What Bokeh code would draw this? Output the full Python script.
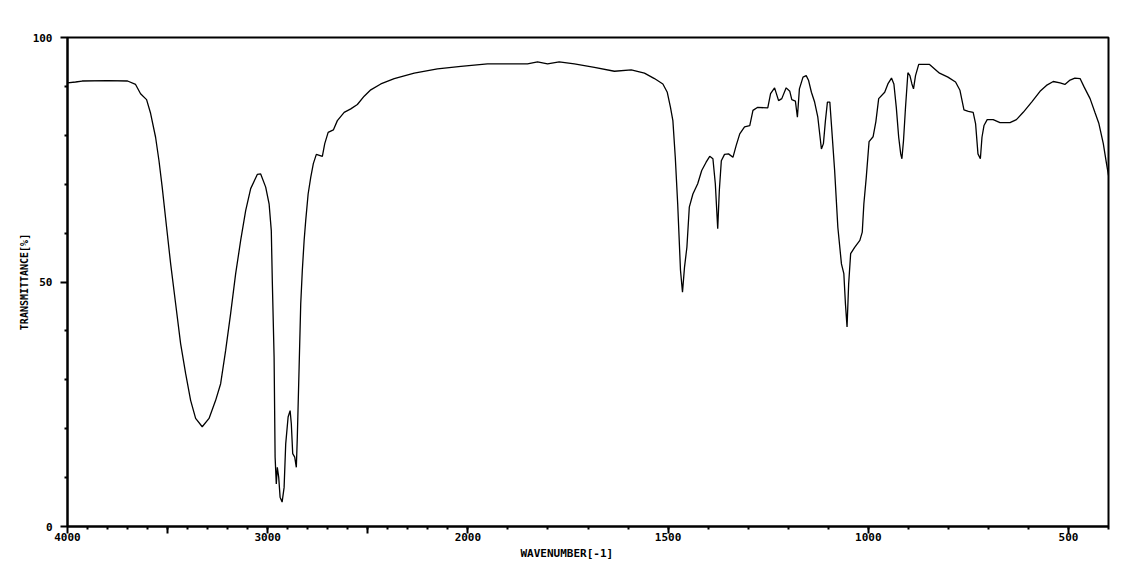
from bokeh.plotting import figure
from bokeh.models import Range1d, FixedTicker, Title
from bokeh.embed import file_html
from bokeh.resources import INLINE

# ---- data ----
wavenumber = [4000, 3960, 3927, 3800, 3700, 3660, 3635, 3605, 3585, 3560, 3543, 3527, 3505, 3485,
              3460, 3435, 3410, 3385, 3360, 3327, 3293, 3260, 3235, 3210, 3185, 3160, 3135, 3110,
              3085, 3052, 3035, 3010, 2993, 2982, 2977, 2968, 2963, 2957, 2952, 2945, 2938, 2928,
              2918, 2910, 2898, 2888, 2882, 2875, 2865, 2857, 2852, 2843, 2835, 2827, 2818, 2810,
              2798, 2785, 2772, 2757, 2727, 2715, 2698, 2672, 2652, 2618, 2585, 2552, 2518, 2485,
              2435, 2368, 2268, 2152, 2035, 1951, 1851, 1826, 1801, 1772, 1734, 1684, 1634, 1592,
              1559, 1534, 1513, 1502, 1494, 1488, 1482, 1476, 1469, 1464, 1459, 1453, 1447, 1438,
              1426, 1416, 1405, 1396, 1388, 1382, 1376, 1372, 1367, 1359, 1349, 1338, 1330, 1321,
              1309, 1296, 1288, 1277, 1251, 1244, 1234, 1224, 1216, 1205, 1196, 1191, 1182, 1177,
              1172, 1163, 1155, 1149, 1142, 1134, 1126, 1117, 1112, 1107, 1102, 1096, 1091, 1084,
              1076, 1067, 1061, 1057, 1053, 1049, 1044, 1034, 1021, 1015, 1011, 1005, 998, 988,
              981, 974, 959, 951, 942, 936, 930, 924, 919, 916, 912, 907, 901, 896, 891, 887, 882,
              874, 847, 822, 801, 782, 771, 761, 750, 738, 732, 726, 720, 716, 711, 703, 688, 671,
              646, 630, 613, 592, 571, 555, 538, 521, 509, 496, 484, 471, 461, 446, 434, 424, 413,
              405, 400]
transmittance = [90.7, 90.9, 91.1, 91.2, 91.1, 90.4, 88.5, 87.3, 84.5, 79.6, 74.8, 69.4, 61.2, 53.8,
                 45.6, 37.4, 31.3, 25.8, 22.1, 20.4, 22.1, 25.8, 29.2, 36.0, 43.6, 51.7, 58.5, 64.6,
                 69.1, 72.0, 72.1, 69.4, 66.0, 60.5, 50.3, 34.6, 14.2, 8.7, 12.1, 10.1, 6.0, 5.0,
                 8.0, 16.9, 22.4, 23.7, 21.0, 14.9, 14.2, 12.1, 18.3, 32.6, 45.5, 52.4, 58.5, 62.6,
                 68.0, 71.4, 74.2, 76.1, 75.7, 78.3, 80.6, 81.1, 83.0, 84.7, 85.4, 86.3, 88.0, 89.3,
                 90.5, 91.6, 92.7, 93.6, 94.1, 94.6, 94.6, 95.0, 94.6, 95.0, 94.6, 93.9, 93.1, 93.4,
                 92.7, 91.6, 90.5, 88.8, 85.7, 83.0, 75.5, 66.0, 52.4, 47.9, 53.0, 57.1, 65.3, 68.0,
                 70.1, 72.8, 74.5, 75.7, 75.2, 70.1, 60.9, 68.7, 74.8, 76.1, 76.2, 75.5, 77.9, 80.3,
                 81.7, 82.0, 85.1, 85.7, 85.6, 88.5, 89.7, 87.1, 87.5, 89.7, 89.0, 87.3, 87.0, 83.7,
                 89.5, 91.9, 92.2, 91.2, 88.8, 86.8, 83.7, 77.2, 78.3, 83.0, 86.8, 86.8, 81.0, 72.8,
                 61.2, 53.7, 51.7, 45.5, 40.8, 49.6, 55.8, 57.1, 58.5, 60.2, 66.0, 71.4, 78.7, 79.7,
                 82.8, 87.5, 88.8, 90.5, 91.7, 90.5, 85.7, 79.6, 76.2, 75.2, 78.9, 85.7, 92.8, 92.2,
                 90.5, 89.5, 92.2, 94.5, 94.5, 92.7, 91.9, 90.9, 89.2, 85.2, 84.9, 84.7, 82.4, 76.2,
                 75.2, 79.6, 82.0, 83.2, 83.2, 82.6, 82.6, 83.2, 84.7, 86.8, 89.0, 90.2, 91.0, 90.7,
                 90.4, 91.3, 91.7, 91.6, 89.9, 87.5, 84.7, 82.4, 78.3, 74.2, 71.8]

x_major_ticks = [4000, 3500, 3000, 2500, 2000, 1500, 1000, 500]
x_tick_labels = ["4000", "", "3000", "", "2000", "1500", "1000", "500"]
x_minor_ticks = list(range(3900, 1999, -100)) + list(range(1900, 399, -100))
y_major_ticks = [0, 50, 100]
y_minor_ticks = [10, 20, 30, 40, 60, 70, 80, 90]
x_title = "WAVENUMBER[-1]"
y_title = "TRANSMITTANCE[%]"

FONT = "DejaVu Sans Mono"


def to_u(w):
    """Spectrometer abscissa: scale doubles below 2000 cm-1."""
    return (4000 - w) if w >= 2000 else 2000 + (2000 - w) * 2


u = [to_u(w) for w in wavenumber]

p = figure(width=1114, height=566, output_backend="svg", toolbar_location=None,
           x_range=Range1d(0, to_u(400)), y_range=Range1d(0, 100),
           min_border_left=67, min_border_right=6, min_border_top=37, min_border_bottom=40)
p.background_fill_color = "white"
p.border_fill_color = "white"
p.outline_line_color = "black"
p.outline_line_width = 2
p.grid.visible = False

p.line(u, transmittance, line_color="black", line_width=1.3)

xt = [to_u(w) for w in x_major_ticks]
p.xaxis.ticker = FixedTicker(ticks=xt, minor_ticks=[to_u(w) for w in x_minor_ticks])
p.xaxis.major_label_overrides = {t: l for t, l in zip(xt, x_tick_labels)}
p.yaxis.ticker = FixedTicker(ticks=y_major_ticks, minor_ticks=y_minor_ticks)

for ax in (p.xaxis[0], p.yaxis[0]):
    ax.axis_line_width = 2
    ax.axis_line_color = "black"
    ax.major_tick_in = 0
    ax.major_tick_out = 7
    ax.minor_tick_in = 0
    ax.minor_tick_out = 3
    ax.major_tick_line_width = 2
    ax.minor_tick_line_width = 2
    ax.major_label_text_font = FONT
    ax.major_label_text_font_style = "bold"
    ax.major_label_text_font_size = "11px"
    ax.major_label_text_color = "black"

p.xaxis.major_label_standoff = -1
p.yaxis.major_label_standoff = 8
p.yaxis.major_label_orientation = "horizontal"

p.add_layout(Title(text=x_title, align="left", offset=453, text_font=FONT,
                   text_font_style="bold", text_font_size="11px", text_color="black",
                   standoff=3), "below")
p.add_layout(Title(text=y_title, align="center", text_font=FONT,
                   text_font_style="bold", text_font_size="10px", text_color="black",
                   standoff=0), "left")

open("out.html", "w").write(file_html(p, INLINE))
